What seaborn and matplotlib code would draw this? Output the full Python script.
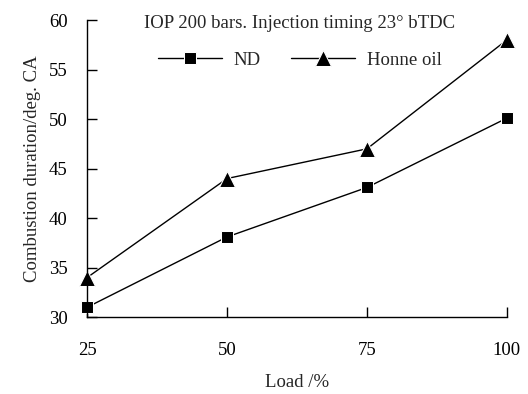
import matplotlib
matplotlib.use("Agg")
import matplotlib.pyplot as plt
import seaborn as sns
import pandas as pd

load = [25, 50, 75, 100]
nd = [31.0, 38.1, 43.1, 50.1]
honne = [34.0, 44.0, 47.0, 58.0]
series_names = ["ND", "Honne oil"]
x_ticks = [25, 50, 75, 100]
y_ticks = [30, 35, 40, 45, 50, 55, 60]

df = pd.DataFrame({
    "Load": load * 2,
    "Duration": nd + honne,
    "Fuel": [series_names[0]] * 4 + [series_names[1]] * 4,
})

sns.set_theme(style="white")
plt.rcParams["font.family"] = ["Liberation Serif", "DejaVu Serif"]

FS = 13.5
fig = plt.figure(figsize=(5.28, 3.94), dpi=100)
ax = fig.add_axes([0.165, 0.195, 0.795, 0.754])

sns.lineplot(data=df, x="Load", y="Duration", hue="Fuel", style="Fuel",
             markers={"ND": "s", "Honne oil": "^"}, dashes=False,
             palette={"ND": "black", "Honne oil": "black"},
             markersize=9, linewidth=1.0, ax=ax, legend=True)

for ln in ax.lines:
    ln.set_clip_on(False)
    if ln.get_marker() == "^":
        ln.set_markersize(11)

ax.set_xlim(25, 100)
ax.set_ylim(30, 60)
ax.set_xticks(x_ticks)
ax.set_yticks(y_ticks)
ax.tick_params(axis="both", direction="in", length=7, width=1, colors="black",
               labelsize=FS, bottom=True, left=True)
ax.tick_params(axis="x", pad=18)
ax.tick_params(axis="y", pad=14)
for s in ["top", "right"]:
    ax.spines[s].set_visible(False)
for s in ["left", "bottom"]:
    ax.spines[s].set_color("black")
    ax.spines[s].set_linewidth(1.0)

ax.set_xlabel("Load /%", fontsize=FS, labelpad=11)
ax.set_ylabel("Combustion duration/deg. CA", fontsize=FS, labelpad=6)

ax.text(0.507, 0.99, "IOP 200 bars. Injection timing 23° bTDC", transform=ax.transAxes,
        ha="center", va="center", fontsize=FS)

leg = ax.legend(loc="center", bbox_to_anchor=(0.507, 0.865), ncol=2, frameon=False,
                handlelength=3.4, fontsize=FS, columnspacing=1.6, handletextpad=0.65)
for h in leg.legend_handles:
    if h.get_marker() == "^":
        h.set_markersize(11)

fig.savefig("out.png", dpi=100)
